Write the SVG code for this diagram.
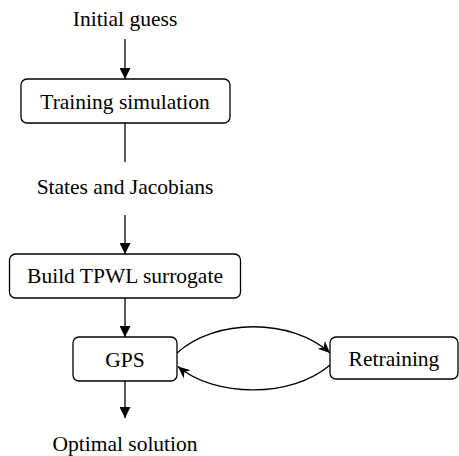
<svg xmlns="http://www.w3.org/2000/svg" width="459" height="456" viewBox="0 0 459 456">
  <style>
    .box { fill: #ffffff; stroke: #000000; stroke-width: 1.3; }
    .lbl { font-family: "Liberation Serif", "Times New Roman", serif; font-size: 21.5px; fill: #000000; text-anchor: middle; }
    .edge { fill: none; stroke: #000000; stroke-width: 1.3; }
  </style>
  <defs>
    <marker id="arrow" viewBox="0 0 10 10" refX="10" refY="5" markerWidth="11" markerHeight="11" markerUnits="userSpaceOnUse" orient="auto">
      <path d="M0,0 L10,5 L0,10 z" fill="#000000"/>
    </marker>
    <marker id="barb" viewBox="0 0 10 10" refX="10" refY="5" markerWidth="12" markerHeight="12" markerUnits="userSpaceOnUse" orient="auto">
      <path d="M0,0.5 L10,5 L0,9.5 L3,5 z" fill="#000000"/>
    </marker>
  </defs>

  <g id="connectors">
    <line class="edge" x1="125" y1="39" x2="125" y2="79" marker-end="url(#arrow)"/>
    <line class="edge" x1="125" y1="123" x2="125" y2="162"/>
    <line class="edge" x1="125" y1="215" x2="125" y2="254" marker-end="url(#arrow)"/>
    <line class="edge" x1="125" y1="298" x2="125" y2="337" marker-end="url(#arrow)"/>
    <line class="edge" x1="125" y1="381" x2="125" y2="418" marker-end="url(#arrow)"/>
    <path class="edge" d="M177,353 C215,318 292,318 330,353" marker-end="url(#barb)"/>
    <path class="edge" d="M330,365 C292,398 215,398 178,366.5" marker-end="url(#barb)"/>
  </g>

  <g id="initial-guess">
    <text class="lbl" x="125" y="26">Initial guess</text>
  </g>
  <g id="training-simulation">
    <rect class="box" x="21" y="79" width="209" height="44" rx="6"/>
    <text class="lbl" x="125" y="109">Training simulation</text>
  </g>
  <g id="states-jacobians">
    <text class="lbl" x="125" y="194">States and Jacobians</text>
  </g>
  <g id="build-tpwl">
    <rect class="box" x="9.5" y="254" width="231" height="44" rx="6"/>
    <text class="lbl" x="125" y="283">Build TPWL surrogate</text>
  </g>
  <g id="gps">
    <rect class="box" x="73" y="337" width="104" height="44" rx="6"/>
    <text class="lbl" x="125" y="367">GPS</text>
  </g>
  <g id="retraining">
    <rect class="box" x="330" y="337" width="128" height="42" rx="6"/>
    <text class="lbl" x="394" y="366">Retraining</text>
  </g>
  <g id="optimal-solution">
    <text class="lbl" x="125" y="450.5">Optimal solution</text>
  </g>
</svg>
